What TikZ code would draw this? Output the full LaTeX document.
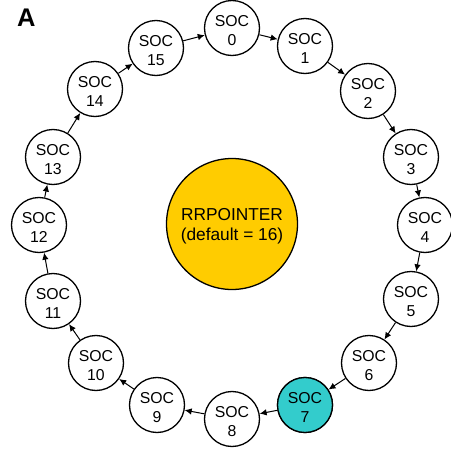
\documentclass[tikz,border=0pt]{standalone}
\usepackage{fontspec}
\setmainfont{Liberation Sans}
\usetikzlibrary{arrows.meta}
\definecolor{socteal}{RGB}{51,204,204}
\definecolor{rryellow}{RGB}{255,204,0}
\begin{document}
\begin{tikzpicture}[x=1pt,y=-1pt,
  soc/.style={circle,draw=black,line width=1.3pt,minimum size=55pt,inner sep=0pt,fill=white},
  soctxt/.style={align=center,inner sep=0pt,font=\fontsize{15.8pt}{19pt}\selectfont},
  arr/.style={line width=1pt,-{Latex[length=7pt,width=6.5pt]}},
  rr/.style={circle,draw=black,line width=1.3pt,minimum size=131pt,inner sep=0pt,fill=rryellow},
  rrtxt/.style={align=center,inner sep=0pt,font=\fontsize{17.3pt}{20.5pt}\selectfont},
  paneltag/.style={inner sep=0pt,anchor=base west,font=\fontsize{25.5pt}{30pt}\selectfont\bfseries}]
\useasboundingbox (0,0) rectangle (451,450);
\node[paneltag] (tag) at (17,26) {A};
\node[rr] (rr) at (232,224) {};
\node[rrtxt] (rrt) at ([yshift=-2pt]rr.center) {RRPOINTER\\(default = 16)};
\foreach \i/\x/\y in {0/232/28, 1/305/46, 2/368/91, 3/411/157, 4/425/225, 5/411/299, 6/369/363, 7/305/405, 8/232/419, 9/157/405, 10/96/363, 11/53/301, 12/39/225, 13/53/157, 14/95/89, 15/156/48}{
  \node[soc] (n\i) at (\x,\y) {};
  \node[soctxt] (t\i) at ([yshift=-2.5pt]n\i.center) {SOC\\\i};
}
\node[soc,fill=socteal] (n7) at (305,405) {};
\node[soctxt] (t7) at ([yshift=-2.5pt]n7.center) {SOC\\7};
\foreach \i in {0,...,15}{
  \pgfmathtruncatemacro\j{mod(\i+1,16)}
  \draw[arr] (n\i) -- (n\j);
}
\end{tikzpicture}
\end{document}
